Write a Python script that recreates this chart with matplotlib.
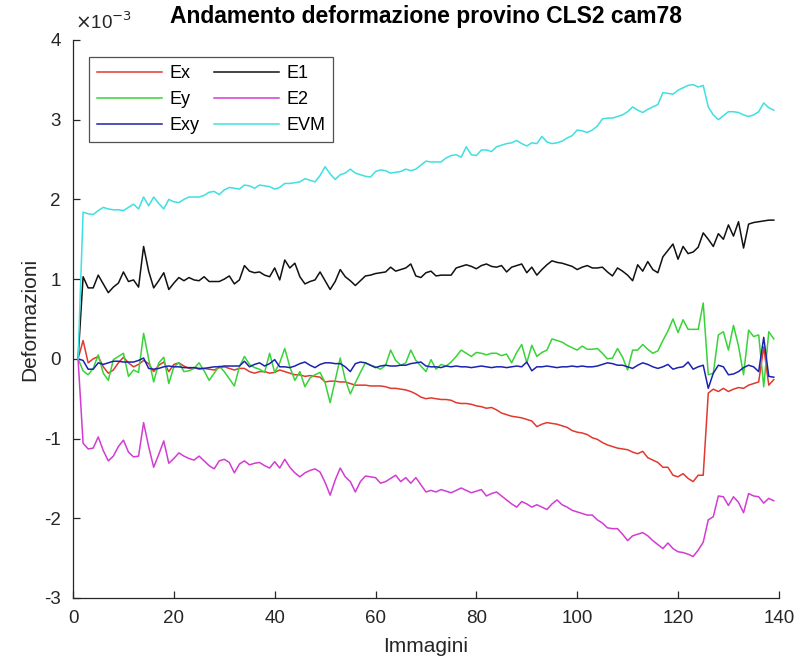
import numpy as np
import matplotlib
matplotlib.use("Agg")
import matplotlib.pyplot as plt
from matplotlib.ticker import FuncFormatter

plt.rcParams['font.family'] = ['Liberation Sans', 'DejaVu Sans']
plt.rcParams['axes.unicode_minus'] = False

# deformazioni (x 1e-3) per ogni immagine
immagini = np.arange(1, 140)

ex = [0.00, 0.23, -0.05, 0.00, 0.03, -0.10, -0.18, -0.14, -0.05, 0.02,
      -0.05, -0.10, -0.07, -0.02, -0.06, -0.16, -0.08, -0.04, -0.16, -0.07,
      -0.05, -0.09, -0.12, -0.11, -0.13, -0.12, -0.13, -0.14, -0.11, -0.10,
      -0.12, -0.14, -0.12, -0.12, -0.16, -0.18, -0.16, -0.16, -0.18, -0.17,
      -0.14, -0.16, -0.18, -0.20, -0.20, -0.22, -0.21, -0.22, -0.23, -0.29,
      -0.28, -0.28, -0.29, -0.29, -0.31, -0.33, -0.33, -0.33, -0.34, -0.34,
      -0.34, -0.35, -0.37, -0.37, -0.38, -0.39, -0.41, -0.44, -0.48, -0.50,
      -0.49, -0.50, -0.51, -0.51, -0.52, -0.55, -0.56, -0.56, -0.57, -0.59,
      -0.60, -0.62, -0.61, -0.64, -0.68, -0.70, -0.72, -0.73, -0.74, -0.76,
      -0.78, -0.85, -0.82, -0.80, -0.81, -0.82, -0.84, -0.86, -0.90, -0.92,
      -0.93, -0.95, -0.99, -1.01, -1.05, -1.08, -1.10, -1.12, -1.13, -1.14,
      -1.17, -1.19, -1.16, -1.24, -1.27, -1.30, -1.36, -1.36, -1.46, -1.48,
      -1.44, -1.50, -1.54, -1.46, -1.46, -0.43, -0.38, -0.41, -0.37, -0.41,
      -0.38, -0.36, -0.37, -0.33, -0.31, -0.29, 0.15, -0.33, -0.26]

ey = [0.00, -0.15, -0.20, -0.12, 0.05, -0.18, -0.27, -0.01, 0.03, 0.07,
      -0.22, -0.14, -0.17, 0.32, 0.00, -0.29, -0.05, 0.02, -0.31, -0.10,
      -0.05, -0.16, -0.15, -0.12, -0.05, -0.15, -0.27, -0.18, -0.09, -0.16,
      -0.25, -0.34, -0.10, 0.03, -0.07, -0.11, -0.13, -0.17, 0.07, -0.17,
      -0.05, 0.13, -0.10, -0.27, -0.16, -0.35, -0.24, -0.20, -0.17, -0.30,
      -0.55, -0.27, 0.01, -0.26, -0.44, -0.30, -0.17, -0.05, -0.08, -0.10,
      -0.13, -0.08, 0.11, -0.02, -0.08, -0.05, 0.11, -0.02, -0.09, -0.16,
      -0.01, -0.13, -0.07, -0.09, -0.04, 0.03, 0.11, 0.07, 0.03, 0.08,
      0.07, 0.05, 0.07, 0.07, 0.04, 0.06, -0.05, 0.08, 0.18, -0.05,
      0.17, 0.03, 0.08, 0.11, 0.25, 0.23, 0.21, 0.17, 0.14, 0.11,
      0.16, 0.12, 0.12, 0.13, 0.07, 0.00, 0.01, 0.13, 0.02, -0.14,
      0.11, 0.11, 0.18, 0.12, 0.07, 0.10, 0.23, 0.35, 0.50, 0.33,
      0.49, 0.37, 0.37, 0.37, 0.70, -0.20, -0.18, 0.30, 0.34, 0.11,
      0.42, 0.16, -0.20, 0.36, 0.28, 0.30, -0.35, 0.34, 0.25]

exy = [0.00, -0.02, -0.13, -0.13, -0.05, -0.07, -0.05, -0.03, -0.03, -0.04,
       -0.04, -0.04, -0.02, 0.01, -0.12, -0.13, -0.12, -0.10, -0.09, -0.10,
       -0.10, -0.11, -0.11, -0.11, -0.12, -0.12, -0.11, -0.10, -0.10, -0.09,
       -0.09, -0.09, -0.09, -0.03, -0.10, -0.07, -0.05, -0.09, -0.06, -0.01,
       -0.10, -0.10, -0.11, -0.09, -0.06, -0.04, -0.08, -0.11, -0.07, -0.05,
       -0.05, -0.06, -0.06, -0.10, -0.16, -0.06, -0.04, -0.05, -0.08, -0.11,
       -0.09, -0.08, -0.09, -0.09, -0.08, -0.08, -0.06, -0.05, -0.04, -0.09,
       -0.10, -0.10, -0.11, -0.09, -0.10, -0.09, -0.10, -0.10, -0.11, -0.10,
       -0.09, -0.10, -0.11, -0.10, -0.10, -0.11, -0.10, -0.09, -0.10, -0.04,
       -0.15, -0.10, -0.10, -0.09, -0.10, -0.11, -0.10, -0.10, -0.09, -0.10,
       -0.09, -0.10, -0.10, -0.09, -0.07, -0.05, -0.06, -0.08, -0.08, -0.10,
       -0.12, -0.08, -0.05, -0.07, -0.10, -0.12, -0.10, -0.07, -0.13, -0.11,
       -0.10, -0.04, -0.13, -0.10, -0.08, -0.37, -0.18, -0.08, -0.10, -0.20,
       -0.19, -0.16, -0.11, -0.08, -0.10, -0.16, 0.27, -0.22, -0.23]

e1 = [0.00, 1.03, 0.89, 0.89, 1.05, 0.94, 0.83, 0.90, 0.95, 1.09,
      0.97, 0.99, 0.90, 1.41, 1.10, 0.89, 0.98, 1.08, 0.87, 0.95,
      1.02, 0.98, 1.02, 0.99, 0.98, 1.03, 0.97, 0.97, 0.97, 1.00,
      1.04, 0.94, 0.99, 1.17, 1.10, 1.08, 1.09, 1.05, 1.03, 1.14,
      0.99, 1.24, 1.14, 1.20, 1.03, 0.94, 0.97, 0.99, 1.09, 0.98,
      0.87, 0.97, 1.12, 1.03, 0.98, 0.92, 0.98, 1.04, 1.05, 1.07,
      1.08, 1.09, 1.15, 1.10, 1.12, 1.14, 1.19, 1.04, 1.02, 1.08,
      1.10, 1.04, 1.05, 1.05, 1.05, 1.14, 1.16, 1.18, 1.16, 1.13,
      1.17, 1.19, 1.16, 1.15, 1.17, 1.09, 1.15, 1.17, 1.19, 1.08,
      1.15, 1.05, 1.12, 1.18, 1.23, 1.21, 1.20, 1.18, 1.16, 1.12,
      1.15, 1.17, 1.14, 1.14, 1.15, 1.09, 1.04, 1.14, 1.10, 1.05,
      0.98, 1.18, 1.10, 1.22, 1.12, 1.08, 1.28, 1.36, 1.44, 1.25,
      1.41, 1.32, 1.34, 1.40, 1.58, 1.50, 1.41, 1.57, 1.50, 1.68,
      1.54, 1.72, 1.39, 1.69, 1.71, 1.72, 1.73, 1.74, 1.74]

e2 = [0.00, -1.06, -1.13, -1.12, -0.98, -1.15, -1.28, -1.22, -1.10, -1.02,
      -1.17, -1.23, -1.22, -0.80, -1.10, -1.36, -1.20, -1.03, -1.31, -1.25,
      -1.18, -1.22, -1.25, -1.27, -1.22, -1.28, -1.34, -1.38, -1.28, -1.26,
      -1.30, -1.43, -1.32, -1.28, -1.33, -1.31, -1.30, -1.34, -1.37, -1.29,
      -1.37, -1.26, -1.36, -1.43, -1.48, -1.43, -1.40, -1.38, -1.42, -1.55,
      -1.71, -1.52, -1.37, -1.48, -1.54, -1.67, -1.54, -1.47, -1.48, -1.49,
      -1.56, -1.54, -1.50, -1.46, -1.54, -1.49, -1.56, -1.49, -1.58, -1.67,
      -1.65, -1.67, -1.64, -1.66, -1.68, -1.65, -1.62, -1.65, -1.68, -1.66,
      -1.64, -1.72, -1.69, -1.67, -1.72, -1.77, -1.82, -1.86, -1.79, -1.82,
      -1.86, -1.83, -1.86, -1.89, -1.82, -1.77, -1.83, -1.86, -1.90, -1.92,
      -1.94, -1.96, -1.96, -2.02, -2.06, -2.12, -2.13, -2.13, -2.20, -2.28,
      -2.22, -2.20, -2.18, -2.22, -2.28, -2.33, -2.38, -2.31, -2.38, -2.42,
      -2.43, -2.45, -2.48, -2.40, -2.30, -2.02, -1.98, -1.72, -1.73, -1.84,
      -1.73, -1.80, -1.93, -1.69, -1.72, -1.73, -1.81, -1.75, -1.78]

evm = [0.00, 1.84, 1.82, 1.81, 1.86, 1.90, 1.88, 1.87, 1.87, 1.86,
       1.90, 1.94, 1.88, 2.03, 1.92, 2.03, 1.95, 1.88, 2.00, 1.97,
       1.96, 2.00, 2.03, 2.03, 2.03, 2.05, 2.09, 2.10, 2.06, 2.12,
       2.15, 2.14, 2.13, 2.18, 2.17, 2.14, 2.18, 2.17, 2.16, 2.13,
       2.15, 2.20, 2.20, 2.21, 2.22, 2.26, 2.24, 2.22, 2.30, 2.41,
       2.32, 2.25, 2.31, 2.33, 2.38, 2.33, 2.31, 2.29, 2.28, 2.35,
       2.37, 2.36, 2.33, 2.34, 2.35, 2.38, 2.36, 2.38, 2.43, 2.48,
       2.47, 2.47, 2.47, 2.52, 2.55, 2.56, 2.53, 2.66, 2.56, 2.55,
       2.62, 2.62, 2.60, 2.66, 2.68, 2.70, 2.71, 2.74, 2.70, 2.67,
       2.71, 2.70, 2.79, 2.72, 2.70, 2.71, 2.73, 2.77, 2.80, 2.87,
       2.86, 2.84, 2.87, 2.92, 3.01, 3.02, 3.02, 3.04, 3.06, 3.10,
       3.16, 3.12, 3.09, 3.13, 3.16, 3.19, 3.34, 3.33, 3.32, 3.37,
       3.40, 3.43, 3.44, 3.41, 3.43, 3.16, 3.06, 3.00, 3.05, 3.10,
       3.10, 3.09, 3.06, 3.04, 3.06, 3.10, 3.21, 3.15, 3.12]

serie = [('Ex', ex, '#e0392e'), ('Ey', ey, '#38d338'), ('Exy', exy, '#1c22b0'),
         ('E1', e1, '#111111'), ('E2', e2, '#d23cd2'), ('EVM', evm, '#3ee0e0')]

fig = plt.figure(figsize=(7.98, 6.64), dpi=100)
ax = fig.add_axes([0.0915, 0.0994, 0.8845, 0.8404])

for nome, valori, colore in serie:
    ax.plot(immagini, np.array(valori) * 1e-3, color=colore, lw=1.1, label=nome)

ax.set_xlim(0, 140)
ax.set_ylim(-3e-3, 4e-3)
ax.set_xticks(np.arange(0, 141, 20))
ax.set_yticks(np.arange(-3, 5) * 1e-3)

# etichette in unità di 1e-3, fattore di scala scritto sopra l'asse
ax.yaxis.set_major_formatter(FuncFormatter(lambda v, p: f'{v * 1e3:.0f}'))
ax.text(0.003, 1.012, r'$\times$10$^{\mathsf{-3}}$', transform=ax.transAxes,
        fontsize=13.5, color='#262626', ha='left', va='bottom')

for s in ['top', 'right']:
    ax.spines[s].set_visible(False)
for s in ['left', 'bottom']:
    ax.spines[s].set_color('#262626')
    ax.spines[s].set_linewidth(0.9)
ax.tick_params(direction='in', length=5, width=0.9, colors='#262626',
               labelsize=13.5)
ax.tick_params(axis='x', pad=9)
ax.tick_params(axis='y', pad=9)

ax.set_title('Andamento deformazione provino CLS2 cam78', fontsize=16.5,
             fontweight='bold', pad=12)
ax.set_xlabel('Immagini', fontsize=15, color='#262626', labelpad=7)
ax.set_ylabel('Deformazioni', fontsize=15, color='#262626', labelpad=3)

leg = ax.legend(ncol=2, loc='upper left', bbox_to_anchor=(0.0227, 0.9695),
                fontsize=13, frameon=True, fancybox=False, handlelength=3.6,
                handletextpad=0.4, columnspacing=0.8, labelspacing=0.5,
                borderpad=0.45, borderaxespad=0)
leg.get_frame().set_edgecolor('#262626')
leg.get_frame().set_linewidth(0.9)

fig.savefig('out.png', dpi=100)
